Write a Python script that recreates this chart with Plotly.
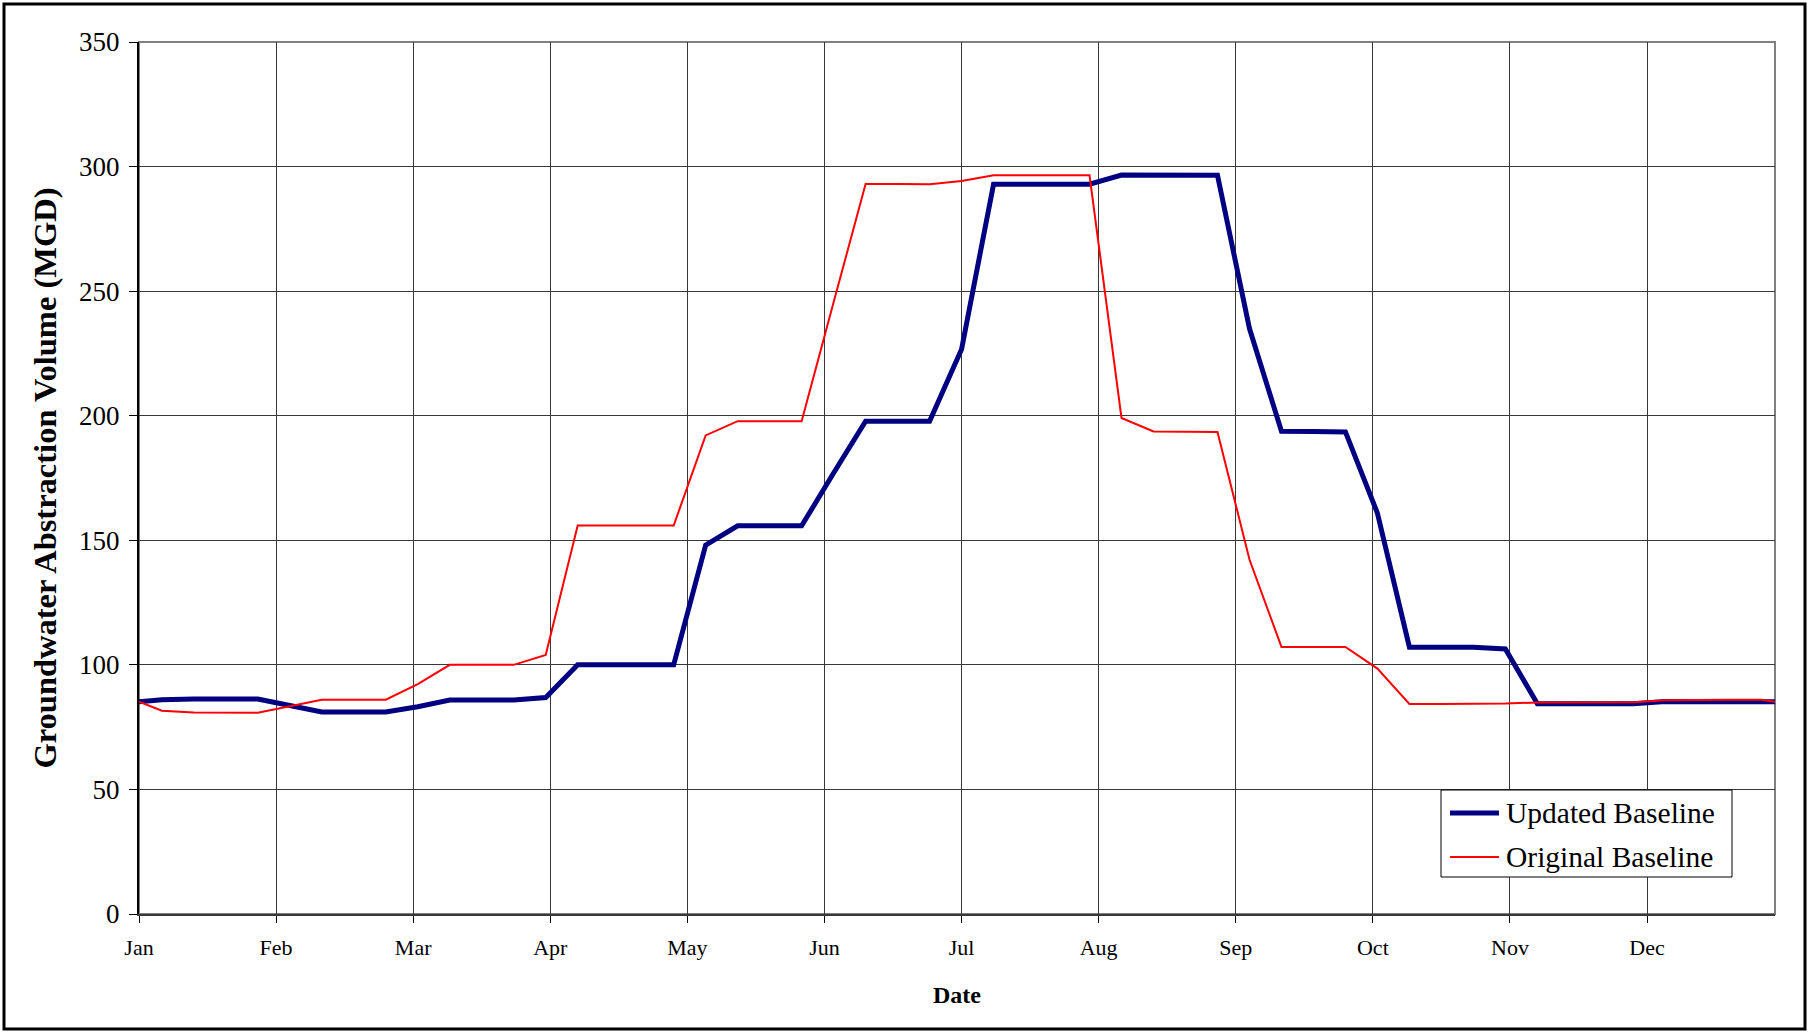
import plotly.graph_objects as go

# weekly points, x in days from 1 Jan (axis months drawn as 30-day steps)
DAYS = [0, 5, 12, 19, 26, 33, 40, 47, 54, 61, 68, 75, 82, 89, 96, 103, 110,
        117, 124, 131, 138, 145, 152, 159, 166, 173, 180, 187, 194, 201, 208,
        215, 222, 229, 236, 243, 250, 257, 264, 271, 278, 285, 292, 299, 306,
        313, 320, 327, 334, 341, 348, 355, 358]
MONTHS = ["Jan", "Feb", "Mar", "Apr", "May", "Jun",
          "Jul", "Aug", "Sep", "Oct", "Nov", "Dec"]

UPDATED = [85.2, 86.0, 86.3, 86.3, 86.3, 83.7, 81.1, 81.1, 81.1, 83.2,
           85.9, 85.9, 85.9, 86.9, 100.0, 100.0, 100.0, 100.0, 148.1, 155.8,
           155.8, 155.8, 177.0, 197.8, 197.8, 197.8, 226.7, 292.9, 292.9, 292.9,
           292.9, 296.6, 296.7, 296.6, 296.5, 235.0, 193.8, 193.7, 193.5, 160.9,
           107.1, 107.1, 107.1, 106.4, 84.4, 84.4, 84.4, 84.4, 85.3, 85.4,
           85.4, 85.4, 85.2]
ORIGINAL = [85.2, 81.6, 80.9, 80.8, 80.8, 83.4, 86.0, 86.0, 86.0, 92.3,
            100.0, 100.0, 100.0, 104.0, 155.9, 155.9, 155.9, 155.9, 192.1, 197.8,
            197.8, 197.8, 245.5, 293.0, 293.0, 292.9, 294.2, 296.5, 296.5, 296.5,
            296.5, 199.1, 193.7, 193.6, 193.5, 142.3, 107.2, 107.2, 107.2, 98.5,
            84.3, 84.3, 84.3, 84.5, 84.9, 85.0, 85.0, 85.0, 85.8, 86.0,
            86.0, 86.0, 85.2]

SERIES = [
    ("Updated Baseline", UPDATED, "#000080", 5),
    ("Original Baseline", ORIGINAL, "#FF0000", 2),
]

W, H = 1809, 1033
M = dict(l=139, r=34, t=42, b=119)
plot_w = W - M["l"] - M["r"]
plot_h = H - M["t"] - M["b"]
SERIF = "Liberation Serif, Times New Roman, serif"
GRID = "#383838"


def px_x(px):
    """page pixel -> paper x"""
    return (px - M["l"]) / plot_w


def px_y(py):
    """page pixel -> paper y"""
    return (M["t"] + plot_h - py) / plot_h


fig = go.Figure()
for name, values, color, width in SERIES:
    fig.add_trace(go.Scatter(x=DAYS, y=values, mode="lines", name=name,
                             line=dict(color=color, width=width), showlegend=False))

fig.update_xaxes(
    range=[0, DAYS[-1]],
    tickvals=[30 * i for i in range(len(MONTHS))],
    ticktext=MONTHS,
    showgrid=True, gridcolor=GRID, gridwidth=1, zeroline=False,
    ticks="outside", ticklen=7, tickcolor="black", ticklabelstandoff=6,
    showline=True, linecolor=GRID, linewidth=2,
    tickfont=dict(family=SERIF, size=22, color="black"),
    title=dict(text="Date", standoff=27,
               font=dict(family=SERIF, size=24, color="black", weight="bold")),
)
fig.update_yaxes(
    range=[0, 350], tick0=0, dtick=50,
    showgrid=True, gridcolor=GRID, gridwidth=1, zeroline=False,
    ticks="outside", ticklen=8, tickcolor="black", ticklabelstandoff=4,
    showline=True, linecolor="black", linewidth=2,
    tickfont=dict(family=SERIF, size=27, color="black"),
    title=dict(text="Groundwater Abstraction Volume (MGD)", standoff=13,
               font=dict(family=SERIF, size=32.5, color="black", weight="bold")),
)

shapes = [
    # plot area border
    dict(type="rect", xref="paper", yref="paper", x0=0, x1=1, y0=0, y1=1,
         line=dict(color="#808080", width=2), layer="below"),
    # chart area frame
    dict(type="rect", xref="paper", yref="paper",
         x0=px_x(4), x1=px_x(W - 4), y0=px_y(H - 4), y1=px_y(4),
         line=dict(color="black", width=3)),
    # legend box
    dict(type="rect", xref="paper", yref="paper",
         x0=px_x(1441), x1=px_x(1732), y0=px_y(877), y1=px_y(790),
         line=dict(color="black", width=1), fillcolor="white"),
]
annotations = []
for (name, _, color, width), row_y in zip(SERIES, [813, 857]):
    shapes.append(dict(type="line", xref="paper", yref="paper",
                       x0=px_x(1450), x1=px_x(1499), y0=px_y(row_y), y1=px_y(row_y),
                       line=dict(color=color, width=width)))
    annotations.append(dict(text=name, xref="paper", yref="paper",
                            x=px_x(1504), y=px_y(row_y), xanchor="left", yanchor="middle",
                            showarrow=False,
                            font=dict(family=SERIF, size=29.5, color="black")))

fig.update_layout(
    width=W, height=H, margin=M,
    paper_bgcolor="white", plot_bgcolor="white",
    font=dict(family=SERIF, color="black"),
    showlegend=False,
    shapes=shapes,
    annotations=annotations,
)

# drop the browser's default body margin so the figure sits at the page origin
fig.write_html("out.html", config={"displayModeBar": False},
               post_script="document.body.style.margin='0';")
